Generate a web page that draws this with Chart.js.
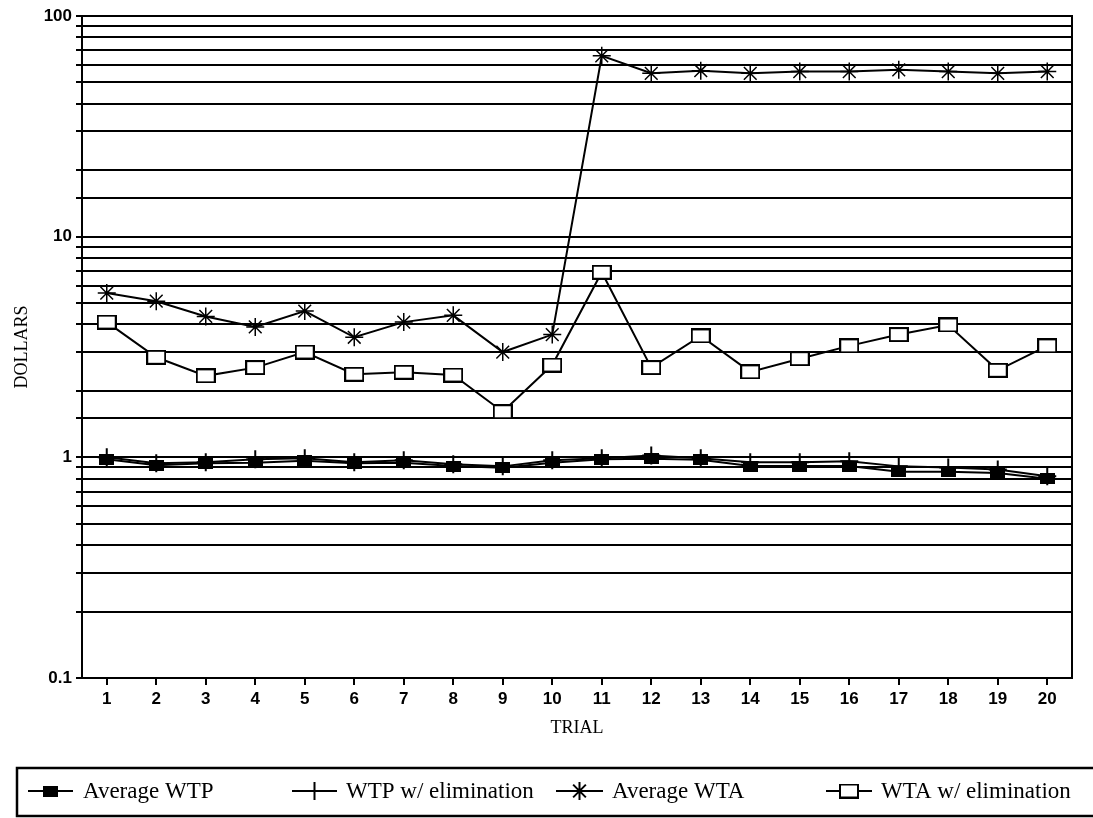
<!DOCTYPE html>
<html>
<head>
<meta charset="utf-8">
<script src="https://cdn.jsdelivr.net/npm/chart.js@4.4.1/dist/chart.umd.min.js"></script>
<style>
    body { margin: 0; background: #fff; }
    #wrap { width: 1093px; height: 818px; }
</style>
</head>
<body>
<div id="wrap"><canvas id="line-chart" width="1093" height="818"></canvas></div>
<script>
// trials and the four series (log scale, dollars)
const trials = ['1','2','3','4','5','6','7','8','9','10','11','12','13','14','15','16','17','18','19','20'];
const avgWTP = [0.98, 0.92, 0.94, 0.945, 0.965, 0.94, 0.945, 0.913, 0.897, 0.945, 0.98, 0.985, 0.975, 0.913, 0.913, 0.913, 0.86, 0.86, 0.85, 0.80];
const wtpElim = [1.0, 0.94, 0.95, 0.98, 0.99, 0.95, 0.97, 0.93, 0.91, 0.97, 0.99, 1.02, 0.99, 0.95, 0.95, 0.96, 0.91, 0.90, 0.88, 0.82];
const avgWTA = [5.55, 5.1, 4.35, 3.9, 4.6, 3.5, 4.1, 4.4, 3.0, 3.6, 66, 55, 56.5, 55, 56, 56, 57, 56, 55, 56];
const wtaElim = [4.1, 2.84, 2.34, 2.55, 3.0, 2.38, 2.43, 2.36, 1.61, 2.62, 6.9, 2.55, 3.55, 2.44, 2.8, 3.2, 3.6, 3.98, 2.48, 3.2];
const yLabels = [0.1, 1, 10, 100];

function boxMarker(w, h, filled) {
    const c = document.createElement('canvas');
    c.width = w; c.height = h;
    const g = c.getContext('2d');
    if (filled) {
        g.fillStyle = '#000';
        g.fillRect(0, 0, w, h);
    } else {
        g.fillStyle = '#fff';
        g.fillRect(0, 0, w, h);
        g.strokeStyle = '#000';
        g.lineWidth = 2;
        g.strokeRect(1, 1, w - 2, h - 2);
    }
    return c;
}

// legend drawn inside a boxed strip under the axis
const boxLegend = {
    id: 'boxLegend',
    afterDraw(chart) {
        const ctx = chart.ctx;
        const y = 791;
        const spots = [[28, 73, 83], [292, 337, 346], [556, 603, 612], [826, 872, 881]];
        ctx.save();
        // frame round the plot
        const a = chart.chartArea;
        ctx.strokeStyle = '#000';
        ctx.lineWidth = 2;
        ctx.strokeRect(a.left, a.top, a.right - a.left, a.bottom - a.top);
        // legend box
        ctx.lineWidth = 2.5;
        ctx.strokeRect(17, 768, 1093, 48);
        chart.data.datasets.forEach((ds, i) => {
            const [x0, x1, tx] = spots[i];
            ctx.strokeStyle = '#000';
            ctx.fillStyle = '#000';
            ctx.lineWidth = 2;
            ctx.beginPath();
            ctx.moveTo(x0, y);
            ctx.lineTo(x1, y);
            ctx.stroke();
            ctx.fillStyle = ds.pointBackgroundColor;
            Chart.helpers.drawPoint(ctx, {
                pointStyle: ds.pointStyle,
                radius: ds.pointRadius,
                borderWidth: ds.pointBorderWidth,
                rotation: 0
            }, (x0 + x1) / 2, y);
            ctx.fillStyle = '#000';
            ctx.font = '23px "Liberation Serif"';
            ctx.textBaseline = 'middle';
            ctx.textAlign = 'left';
            ctx.fillText(ds.label, tx, y + 1);
        });
        ctx.restore();
    }
};

const common = {
    borderColor: '#000',
    borderWidth: 2,
    pointBorderColor: '#000',
    pointBorderWidth: 1.5,
    tension: 0
};

let lineChart = new Chart('line-chart', {
    type: 'line',
    data: {
        labels: trials,
        datasets: [
            { ...common, label: 'Average WTP', data: avgWTP,
              pointStyle: boxMarker(15, 11, true), pointRadius: 7, pointBackgroundColor: '#000' },
            { ...common, label: 'WTP w/ elimination', data: wtpElim,
              pointStyle: 'cross', pointRadius: 9, pointBorderWidth: 2, pointBackgroundColor: '#000' },
            { ...common, label: 'Average WTA', data: avgWTA,
              pointStyle: 'star', pointRadius: 9, pointBackgroundColor: '#000' },
            { ...common, label: 'WTA w/ elimination', data: wtaElim,
              pointStyle: boxMarker(20, 15, false), pointRadius: 9, pointBackgroundColor: '#fff' }
        ]
    },
    options: {
        responsive: false,
        animation: false,
        layout: { padding: { top: 16, right: 21, bottom: 72, left: 0 } },
        plugins: {
            legend: false,
            tooltip: { enabled: false }
        },
        scales: {
            x: {
                type: 'category',
                offset: true,
                grid: { offset: false, drawOnChartArea: false, drawTicks: true, tickLength: 7, color: '#000', lineWidth: 2 },
                border: { display: true, color: '#000', width: 2 },
                ticks: { color: '#000', padding: 4, font: { family: 'Liberation Sans', size: 17, weight: 'bold' }, maxRotation: 0 },
                title: { display: true, text: 'TRIAL', color: '#000', padding: { top: 4, bottom: 7 },
                         font: { family: 'Liberation Serif', size: 18 } },
                afterFit: scale => { scale.height = 68; }
            },
            y: {
                type: 'logarithmic',
                min: 0.1,
                max: 100,
                grid: { color: '#000', lineWidth: 2, drawTicks: true, tickLength: 6 },
                border: { display: true, color: '#000', width: 2 },
                ticks: {
                    autoSkip: false,
                    color: '#000',
                    padding: 4,
                    font: { family: 'Liberation Sans', size: 17, weight: 'bold' },
                    callback: function(value) {
                        if (yLabels.includes(Number(value))) { return String(value); }
                        return '';
                    }
                },
                title: { display: true, text: 'DOLLARS', color: '#000', padding: { top: 11, bottom: 0 },
                         font: { family: 'Liberation Serif', size: 18 } },
                afterFit: scale => { scale.width = 82; }
            }
        }
    },
    plugins: [boxLegend]
});
</script>
</body>
</html>
